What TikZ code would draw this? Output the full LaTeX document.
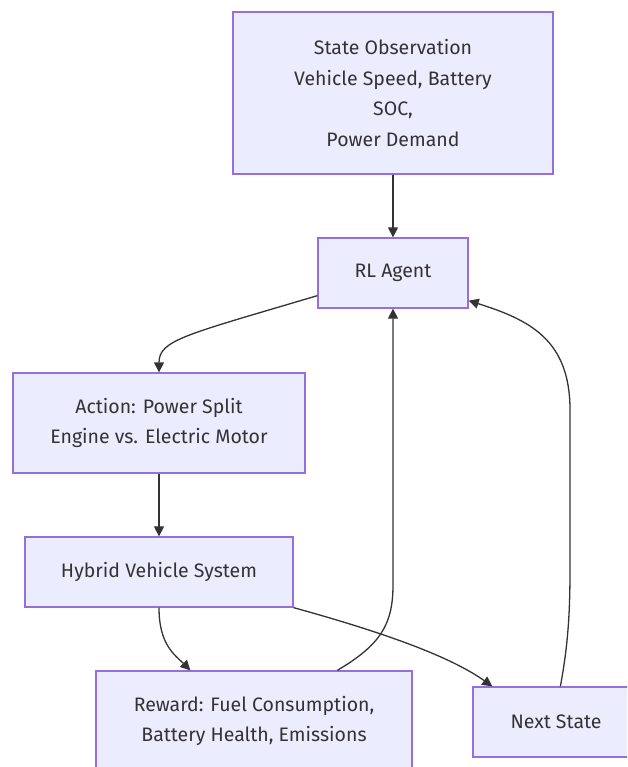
\documentclass[tikz,border=0pt]{standalone}
\usepackage{fontspec}
\setmainfont{Fira Sans}
\usetikzlibrary{arrows.meta,calc}
\definecolor{boxfill}{HTML}{ECECFF}
\definecolor{boxline}{HTML}{9370DB}
\definecolor{txt}{HTML}{333333}
\begin{document}
\begin{tikzpicture}[x=1pt,y=-1pt,
  box/.style={draw=boxline,fill=boxfill,line width=1.3pt,align=center,text=txt,
    font=\fontsize{19.5}{30.5}\selectfont,inner sep=0pt},
  edge/.style={draw=txt,line width=1.3pt,-{Triangle[length=10pt,width=10pt]}}]
\useasboundingbox (0,0) rectangle (627,767);
\clip (0,0) rectangle (627,767);
\node[box,minimum width=320pt,minimum height=162pt] (state) at (393,93)
  {State Observation\\Vehicle Speed, Battery\\SOC,\\Power Demand};
\node[box,minimum width=150pt,minimum height=70pt] (rl) at (393,273) {RL Agent};
\node[box,minimum width=292pt,minimum height=100pt] (act) at (159,423)
  {Action: Power Split\\Engine vs. Electric Motor};
\node[box,minimum width=268pt,minimum height=70pt] (hyb) at (159,572) {Hybrid Vehicle System};
\node[box,minimum width=316pt,minimum height=100pt] (rew) at (254,721)
  {Reward: Fuel Consumption,\\Battery Health, Emissions};
\node[box,minimum width=166pt,minimum height=70pt] (next) at (556,722) {Next State};

\draw[edge] (state) -- (rl);
\draw[edge] ($(rl.south west)+(0,-13)$) .. controls (185,335) and (159,340) .. (act.north);
\draw[edge] (act) -- (hyb);
\draw[edge] (hyb.south) .. controls (159,645) and (175,655) .. ($(rew.north west)+(95,0)$);
\draw[edge] (hyb.south east) .. controls (400,637) and (455,660) .. ($(next.north west)+(20,0)$);
\draw[edge] ($(rew.north west)+(242,0)$) .. controls (380,645) and (393,625) .. (393,585) -- (rl.south);
\draw[edge] ($(next.north west)+(88,0)$) .. controls (571,630) and (570,590) .. (570,540)
  -- (570,410) .. controls (570,340) and (530,320) .. ($(rl.south east)+(0,-8)$);
\end{tikzpicture}
\end{document}
